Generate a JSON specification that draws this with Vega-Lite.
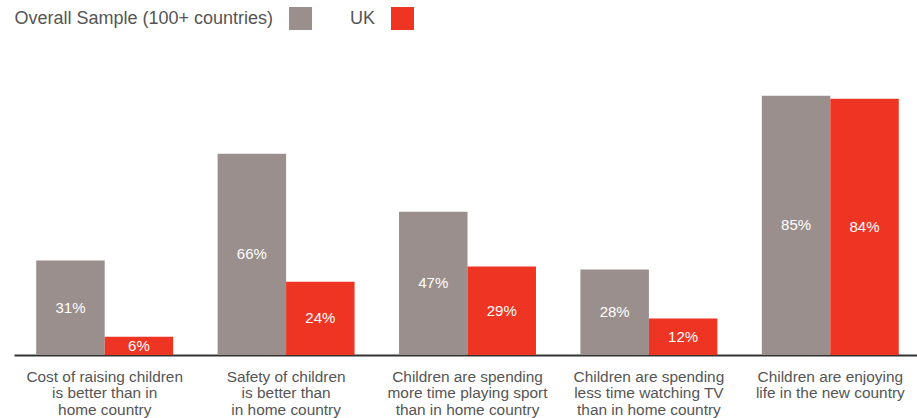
{
  "$schema": "https://vega.github.io/schema/vega-lite/v6.json",
  "width": 907,
  "height": 305,
  "autosize": {"type": "none"},
  "padding": {"left": 14, "top": 50, "right": 0, "bottom": 63},
  "background": "white",
  "config": {
    "view": {"stroke": null},
    "font": "Liberation Sans"
  },
  "data": {
    "values": [
      {"cat": "Cost of raising children|is better than in|home country", "series": "Overall Sample (100+ countries)", "value": 31},
      {"cat": "Cost of raising children|is better than in|home country", "series": "UK", "value": 6},
      {"cat": "Safety of children|is better than|in home country", "series": "Overall Sample (100+ countries)", "value": 66},
      {"cat": "Safety of children|is better than|in home country", "series": "UK", "value": 24},
      {"cat": "Children are spending|more time playing sport|than in home country", "series": "Overall Sample (100+ countries)", "value": 47},
      {"cat": "Children are spending|more time playing sport|than in home country", "series": "UK", "value": 29},
      {"cat": "Children are spending|less time watching TV|than in home country", "series": "Overall Sample (100+ countries)", "value": 28},
      {"cat": "Children are spending|less time watching TV|than in home country", "series": "UK", "value": 12},
      {"cat": "Children are enjoying|life in the new country", "series": "Overall Sample (100+ countries)", "value": 85},
      {"cat": "Children are enjoying|life in the new country", "series": "UK", "value": 84}
    ]
  },
  "transform": [
    {"calculate": "datum.value / 2", "as": "mid"},
    {"calculate": "datum.value + '%'", "as": "lab"}
  ],
  "encoding": {
    "x": {
      "field": "cat",
      "type": "nominal",
      "sort": null,
      "scale": {"paddingInner": 0.245, "paddingOuter": 0.1225},
      "axis": {
        "title": null,
        "labelAngle": 0,
        "labelExpr": "split(datum.value, '|')",
        "labelFontSize": 15.4,
        "labelColor": "#555555",
        "labelLineHeight": 16.8,
        "labelPadding": 14,
        "labelBaseline": "top",
        "ticks": false,
        "domainColor": "#333333",
        "domainWidth": 2,
        "labelLimit": 200
      }
    },
    "xOffset": {
      "field": "series",
      "type": "nominal",
      "sort": ["Overall Sample (100+ countries)", "UK"],
      "scale": {"paddingInner": 0, "paddingOuter": 0}
    }
  },
  "layer": [
    {
      "mark": {"type": "bar"},
      "encoding": {
        "y": {
          "field": "value",
          "type": "quantitative",
          "scale": {"domain": [0, 100], "nice": false},
          "axis": null
        },
        "color": {
          "field": "series",
          "type": "nominal",
          "scale": {
            "domain": ["Overall Sample (100+ countries)", "UK"],
            "range": ["#9A8F8C", "#EE3524"]
          },
          "legend": {
            "title": null,
            "orient": "none",
            "legendX": 275,
            "legendY": -43,
            "direction": "horizontal",
            "symbolType": "square",
            "symbolSize": 529,
            "symbolStrokeWidth": 0,
            "symbolOpacity": 1,
            "labelFontSize": 18,
            "labelColor": "#555555",
            "labelAlign": "right",
            "labelOffset": -39,
            "labelLimit": 400,
            "columnPadding": 37
          }
        }
      }
    },
    {
      "mark": {"type": "text", "color": "white", "fontSize": 15, "baseline": "middle"},
      "encoding": {
        "y": {"field": "mid", "type": "quantitative"},
        "text": {"field": "lab", "type": "nominal"}
      }
    }
  ]
}
